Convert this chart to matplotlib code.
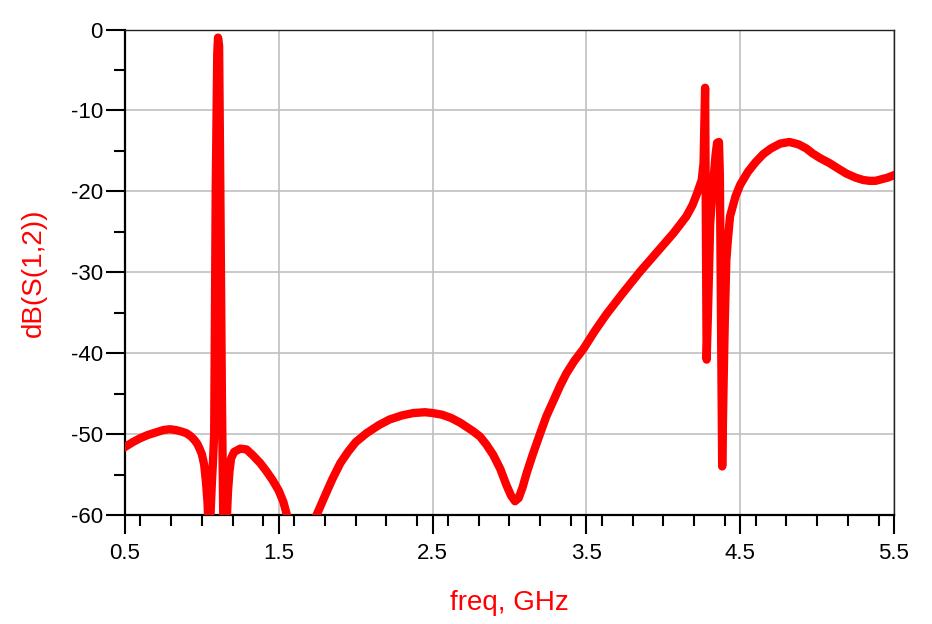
import numpy as np
import matplotlib
matplotlib.use('Agg')
import matplotlib.pyplot as plt
from matplotlib.ticker import MultipleLocator, FixedLocator

# values (dB below -60 are clipped by the axes)
freq = [0.50, 0.55, 0.60, 0.65, 0.70, 0.75, 0.79, 0.83, 0.87, 0.90,
        0.93, 0.95, 0.97, 0.985, 1.00, 1.015, 1.027, 1.037,
        1.045, 1.056, 1.065, 1.072, 1.08, 1.09, 1.10, 1.105, 1.112, 1.12,
        1.13, 1.14, 1.155, 1.163, 1.17, 1.18, 1.19, 1.21, 1.25, 1.29,
        1.33, 1.38, 1.42, 1.46, 1.50, 1.53, 1.553, 1.65, 1.746, 1.78,
        1.81, 1.85, 1.90, 1.95, 2.00, 2.07, 2.15, 2.22, 2.30, 2.375,
        2.45, 2.50, 2.56, 2.62, 2.68, 2.72, 2.76, 2.808, 2.85, 2.895,
        2.94, 2.98, 3.01, 3.036, 3.06, 3.085, 3.112, 3.15, 3.198, 3.24,
        3.285, 3.33, 3.37, 3.42, 3.48, 3.55, 3.63, 3.74, 3.85, 3.96,
        4.065, 4.15, 4.19, 4.217, 4.25, 4.262, 4.272, 4.282,
        4.292, 4.305, 4.32, 4.34, 4.35, 4.362, 4.368, 4.383, 4.392, 4.40,
        4.41, 4.42, 4.434, 4.47, 4.50, 4.55, 4.60, 4.65, 4.70, 4.76,
        4.82, 4.88, 4.93, 4.97, 5.02, 5.08, 5.13, 5.19, 5.25, 5.30,
        5.34, 5.38, 5.42, 5.46, 5.50]
s12_db = [-51.6, -51.0, -50.5, -50.1, -49.8, -49.5, -49.4, -49.5, -49.7, -49.9,
          -50.3, -50.7, -51.2, -51.8, -52.5, -53.8, -56.0, -58.5,
          -63.0, -60.0, -56.0, -53.5, -50.0, -20.0, -3.0, -1.0, -2.0, -20.0,
          -45.0, -62.0, -62.0, -60.0, -57.0, -54.5, -53.0, -52.2, -51.8, -51.9,
          -52.6, -53.6, -54.6, -55.7, -57.0, -58.4, -60.0, -66.0, -60.0, -58.5,
          -57.2, -55.5, -53.6, -52.2, -51.0, -49.9, -48.9, -48.2, -47.7, -47.4,
          -47.3, -47.4, -47.6, -48.0, -48.6, -49.1, -49.6, -50.3, -51.3, -52.6,
          -54.3, -56.3, -57.6, -58.3, -57.9, -56.6, -54.8, -52.6, -50.0, -47.8,
          -45.9, -44.0, -42.5, -41.0, -39.5, -37.4, -35.2, -32.5, -29.9, -27.5,
          -25.2, -23.1, -21.7, -20.4, -18.6, -16.5, -7.2, -40.8,
          -34.0, -24.0, -20.0, -15.5, -14.0, -13.9, -18.0, -54.0, -44.0, -36.0,
          -28.5, -26.0, -23.1, -20.6, -19.2, -17.6, -16.4, -15.4, -14.7, -14.1,
          -13.9, -14.2, -14.7, -15.3, -15.9, -16.5, -17.1, -17.8, -18.3, -18.6,
          -18.7, -18.7, -18.5, -18.3, -18.0]

x_major = [0.5, 1.5, 2.5, 3.5, 4.5, 5.5]
y_major = [0, -10, -20, -30, -40, -50, -60]

plt.rcParams['font.family'] = ['Liberation Sans', 'DejaVu Sans']

fig = plt.figure(figsize=(9.32, 6.24), dpi=100)
ax = fig.add_axes([0.1341, 0.1747, 0.9592 - 0.1341, 0.9527 - 0.1747])

ax.plot(freq, s12_db, color='#ff0000', lw=6, solid_joinstyle='round', zorder=3)

ax.set_xlim(0.5, 5.5)
ax.set_ylim(-60, 0)

ax.xaxis.set_major_locator(FixedLocator(x_major))
ax.xaxis.set_minor_locator(MultipleLocator(0.2))
ax.yaxis.set_major_locator(FixedLocator(y_major))
ax.yaxis.set_minor_locator(MultipleLocator(5))
ax.set_xticklabels([str(v) for v in x_major])
ax.set_yticklabels([str(v) for v in y_major])

ax.grid(True, which='major', color='#c0c0c0', lw=1.2, zorder=0)
ax.set_axisbelow(True)

ax.tick_params(axis='both', which='major', direction='out', length=14,
               width=1.5, color='black', labelsize=16)
ax.tick_params(axis='both', which='minor', direction='out', length=8,
               width=1.5, color='black')
ax.tick_params(axis='x', which='major', pad=6)
ax.tick_params(axis='y', which='major', pad=2)

for side in ['left', 'bottom']:
    ax.spines[side].set_color('black')
    ax.spines[side].set_linewidth(1.6)
for side in ['top', 'right']:
    ax.spines[side].set_color('#222222')
    ax.spines[side].set_linewidth(1.0)

ax.set_xlabel('freq, GHz', color='#ff0000', fontsize=20, labelpad=19)
ax.set_ylabel('dB(S(1,2))', color='#ff0000', fontsize=20, labelpad=17)

fig.savefig('out.png', dpi=100)
